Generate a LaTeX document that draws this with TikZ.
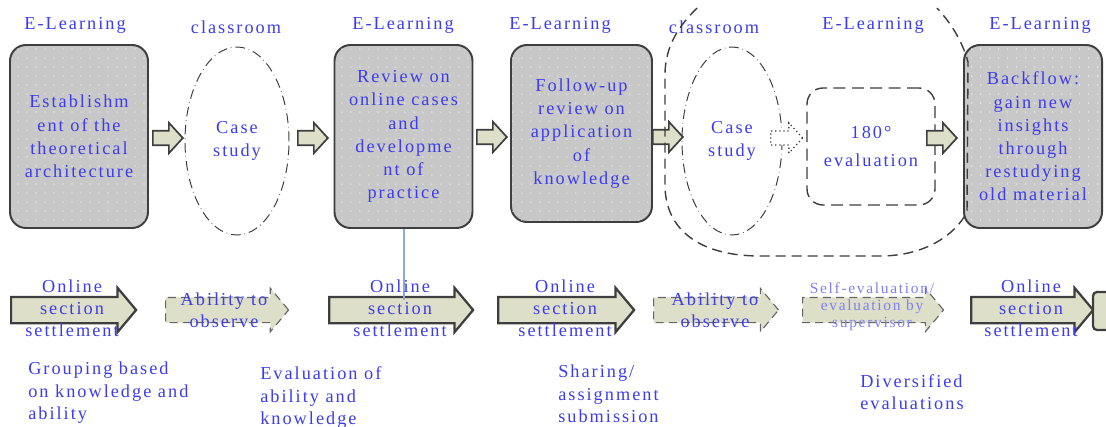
\documentclass[tikz,border=0pt]{standalone}
\usepackage{fontspec}
\setmainfont{Liberation Serif}[LetterSpace=11]
\usetikzlibrary{shapes.geometric,shapes.arrows,patterns.meta}

\definecolor{inkblue}{RGB}{60,60,236}
\definecolor{boxgray}{RGB}{200,200,200}
\definecolor{boxline}{RGB}{62,62,62}
\definecolor{arrowfill}{RGB}{221,223,200}
\definecolor{lineblue}{RGB}{140,170,215}

% small white spots on the grey blocks
\tikzdeclarepattern{
  name=spots, type=uncolored,
  bottom left={(-1pt,-1pt)}, top right={(1pt,1pt)},
  tile size={(6.4pt,6.4pt)},
  code={\pgfpathcircle{\pgfpointorigin}{0.45pt}\pgfusepath{fill}}
}

\begin{document}
\begin{tikzpicture}[
    x=0.25mm, y=-0.25mm,
    font=\fontsize{13}{16.5}\selectfont,
    every node/.style={text=inkblue},
    elearn/.style={draw=boxline, line width=1.4pt, rounded corners=4mm, fill=boxgray,
        postaction={pattern=spots, pattern color=white},
        minimum width=34.5mm, minimum height=45.75mm, align=center, inner sep=0pt},
    classbox/.style={ellipse, draw=boxline, line width=0.7pt, align=center, inner sep=0pt,
        dash pattern=on 2.4mm off 1mm on 0.4pt off 1mm,
        minimum width=26mm, minimum height=47mm},
    evalbox/.style={draw=boxline, line width=1pt, rounded corners=4mm,
        dash pattern=on 3mm off 1.6mm, align=center,
        minimum width=32mm, minimum height=29.25mm,
        font=\fontsize{13}{20.5}\selectfont},
    phase/.style={inner sep=0pt},
    flow/.style={single arrow, draw=boxline, fill=arrowfill, line width=1.2pt, anchor=tail,
        minimum height=7.5mm, inner xsep=0pt, inner ysep=1.6mm,
        single arrow head extend=2mm, single arrow tip angle=95},
    settle/.style={single arrow, draw=boxline, fill=arrowfill, line width=1.6pt, anchor=tail,
        inner xsep=0pt, inner ysep=3mm,
        single arrow head extend=2.3mm, single arrow tip angle=100},
    observe/.style={settle, line width=0.8pt, draw=boxline!80, dash pattern=on 2mm off 1.3mm},
    caption/.style={align=center, inner sep=0pt, font=\fontsize{13}{15.5}\selectfont},
    note/.style={align=left, anchor=west, inner sep=0pt, font=\fontsize{13}{16}\selectfont}
]
\useasboundingbox (0,0) rectangle (1106,427);

% upper row: blocks and classroom sessions
\node[elearn] (est) at (79,136.5) {Establishm\\ent of the\\theoretical\\architecture};
\node[classbox] (case1) at (237,141) {Case\\study};
\node[elearn] (review) at (403.5,136.5) {Review on\\online cases\\and\\developme\\nt of\\practice};
\node[elearn, minimum width=35.25mm, minimum height=44.25mm] (follow) at (581.5,133.5)
    {Follow-up\\review on\\application\\of\\knowledge};
\node[classbox, minimum width=25mm] (case2) at (732,141) {Case\\study};
\node[evalbox] (eval) at (871,146.5) {180°\\evaluation};
\node[elearn] (back) at (1033,136.5) {Backflow:\\gain new\\insights\\through\\restudying\\old material};

% headings
\node[phase] (h1) at (75,25) {E-Learning};
\node[phase] (h2) at (236,27) {classroom};
\node[phase] (h3) at (403,25) {E-Learning};
\node[phase] (h4) at (560,25) {E-Learning};
\node[phase] (h5) at (714,27) {classroom};
\node[phase] (h6) at (873,25) {E-Learning};
\node[phase] (h7) at (1040,25) {E-Learning};

% arrows between the blocks
\node[flow] (a1) at (152,138) {};
\node[flow] (a2) at (297,138) {};
\node[flow] (a3) at (476,137) {};
\node[flow] (a4) at (652,137) {};
\node[flow, fill=white, line width=0.9pt, dotted, minimum height=8mm] (a5) at (770,138) {};
\node[flow] (a6) at (926,138) {};

% group of classroom study and evaluation
\draw[boxline, line width=1pt, dash pattern=on 2.5mm off 1.5mm]
  (697,8) .. controls (680,25) and (665,45) .. (665,75) -- (665,185)
  .. controls (665,230) and (700,256) .. (760,256) -- (880,256)
  .. controls (925,256) and (955,235) .. (967,212) -- (968,62)
  .. controls (962,40) and (950,22) .. (937,8);

% lower row: online settlement
\node[settle, minimum height=31.25mm] (s1) at (10,310) {};
\node[observe, minimum height=30.75mm] (s2) at (165,310) {};
\node[settle, minimum height=36mm] (s3) at (328,310) {};
\node[settle, minimum height=34mm] (s4) at (497,310) {};
\node[observe, minimum height=31.25mm] (s5) at (653,310) {};
\node[observe, minimum height=35.25mm] (s6) at (802,310) {};
\node[settle, minimum height=30.5mm] (s7) at (970,310) {};
\node[draw=boxline, fill=arrowfill, line width=1.6pt, rounded corners=1mm,
      minimum width=15mm, minimum height=9.5mm] (s8) at (1123,311) {};

\coordinate (tap) at (403.5,300);
\draw[lineblue, line width=0.5mm] (review.south) -- (tap);

\node[caption] (c1) at (72,308) {Online\\section\\settlement};
\node[caption] (c2) at (224,310) {Ability to\\observe};
\node[caption] (c3) at (400,308) {Online\\section\\settlement};
\node[caption] (c4) at (565,308) {Online\\section\\settlement};
\node[caption] (c5) at (715,310) {Ability to\\observe};
\node[caption, text=inkblue!65!white, font=\fontsize{11}{12}\selectfont] (c6) at (872,307)
    {Self-evaluation/\\evaluation by\\supervisor};
\node[caption] (c7) at (1031,308) {Online\\section\\settlement};

% notes under the row
\node[note] (n1) at (28,393) {Grouping based\\on knowledge and\\ability};
\node[note] (n2) at (260,398) {Evaluation of\\ability and\\knowledge};
\node[note] (n3) at (558,394) {Sharing/\\assignment\\submission};
\node[note] (n4) at (860,392) {Diversified\\evaluations};
\end{tikzpicture}
\end{document}
